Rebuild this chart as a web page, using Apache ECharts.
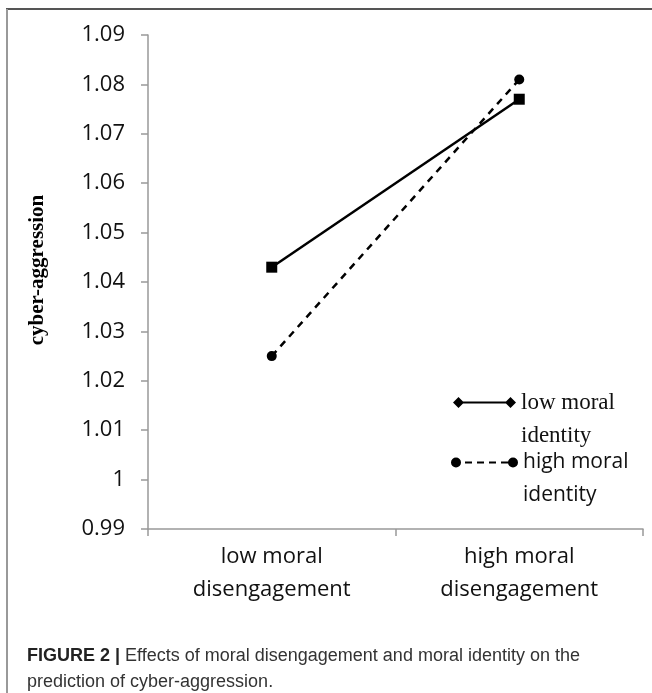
<!DOCTYPE html>
<html>
<head>
<meta charset="utf-8">
<script src="https://cdn.jsdelivr.net/npm/echarts@6/dist/echarts.min.js"></script>
<style>
  html, body { margin: 0; padding: 0; background: #fff; }
  #chart { width: 652px; height: 693px; }
</style>
</head>
<body>
<div id="chart"></div>
<script>
// 数据
const categories = ['low moral\ndisengagement', 'high moral\ndisengagement']
const lowIdentity = [1.043, 1.077]
const highIdentity = [1.025, 1.081]
const seriesNames = ['low moral\nidentity', 'high moral\nidentity']
const yMin = 0.99
const yMax = 1.09
const yStep = 0.01

const chart = echarts.init(document.getElementById('chart'))

// 图例图标：菱形-实线-菱形 / 圆点-虚线-圆点
const iconSolid = 'path://M0,6L5.5,0.5L11,6L5.5,11.5Z M5,5H58V7H5Z M52,6L57.5,0.5L63,6L57.5,11.5Z'
const iconDash = 'path://M0,6A5,5 0 1 1 10,6A5,5 0 1 1 0,6Z M14,5H21V7H14Z M26,5H33V7H26Z M38,5H45V7H38Z M50,5H61V7H50Z M57,6A5,5 0 1 1 67,6A5,5 0 1 1 57,6Z'

// 图例文字第一行与图标对齐：前面加一个空行
const legendFormatter = (name) => '\n' + name

const option = {
  animation: false,
  title: {
    left: 22,
    top: 638,
    text: '{b|FIGURE 2 |} Effects of moral disengagement and moral identity on the\nprediction of cyber-aggression.',
    textStyle: {
      fontFamily: 'Liberation Sans',
      fontSize: 18,
      fontWeight: 'normal',
      color: '#333',
      lineHeight: 26,
      rich: {
        b: { fontFamily: 'Liberation Sans', fontSize: 18, fontWeight: 'bold', color: '#222', lineHeight: 26 }
      }
    }
  },
  graphic: [
    { type: 'line', shape: { x1: 6, y1: 9, x2: 652, y2: 9 }, style: { stroke: '#555', lineWidth: 2 } },
    { type: 'line', shape: { x1: 7, y1: 9, x2: 7, y2: 693 }, style: { stroke: '#999', lineWidth: 2 } }
  ],
  legend: [
    {
      left: 453,
      top: 353,
      padding: 0,
      itemWidth: 63,
      itemHeight: 12,
      itemStyle: { borderWidth: 0 },
      formatter: legendFormatter,
      data: [{ name: seriesNames[0], icon: iconSolid }],
      textStyle: {
        fontFamily: 'Liberation Serif',
        fontSize: 23,
        color: '#111',
        lineHeight: 33
      }
    },
    {
      left: 451,
      top: 413,
      padding: 0,
      itemWidth: 67,
      itemHeight: 12,
      itemStyle: { borderWidth: 0 },
      formatter: legendFormatter,
      data: [{ name: seriesNames[1], icon: iconDash }],
      textStyle: {
        fontFamily: 'Open Sans',
        fontSize: 21,
        color: '#111',
        lineHeight: 33
      }
    }
  ],
  grid: {
    left: 148,
    right: 9,
    top: 35,
    bottom: 164
  },
  xAxis: {
    type: 'category',
    data: categories,
    boundaryGap: true,
    axisLine: { lineStyle: { color: '#999', width: 1.5 } },
    axisTick: { show: true, length: 7, lineStyle: { color: '#999', width: 1.5 } },
    axisLabel: {
      margin: 11,
      fontFamily: 'Open Sans',
      fontSize: 22,
      lineHeight: 33,
      color: '#111'
    }
  },
  yAxis: {
    type: 'value',
    min: yMin,
    max: yMax,
    interval: yStep,
    name: 'cyber-aggression',
    nameLocation: 'middle',
    nameRotate: 90,
    nameGap: 100,
    nameTextStyle: {
      fontFamily: 'Liberation Serif',
      fontWeight: 'bold',
      fontSize: 21,
      color: '#000',
      padding: [0, 0, 0, 24]
    },
    splitLine: { show: false },
    axisLine: { show: true, lineStyle: { color: '#999', width: 1.5 } },
    axisTick: { show: true, length: 7, lineStyle: { color: '#999', width: 1.5 } },
    axisLabel: {
      margin: 23,
      fontFamily: 'Open Sans',
      fontSize: 22,
      color: '#111',
      formatter: (v) => String(Number(v.toFixed(2)))
    }
  },
  series: [
    {
      name: seriesNames[0],
      type: 'line',
      data: lowIdentity,
      symbol: 'rect',
      symbolSize: 11,
      itemStyle: { color: '#000' },
      lineStyle: { color: '#000', width: 2.5 }
    },
    {
      name: seriesNames[1],
      type: 'line',
      data: highIdentity,
      symbol: 'circle',
      symbolSize: 10,
      itemStyle: { color: '#000' },
      lineStyle: { color: '#000', width: 2.5, type: [7, 6] }
    }
  ]
}
chart.setOption(option)
</script>
</body>
</html>
